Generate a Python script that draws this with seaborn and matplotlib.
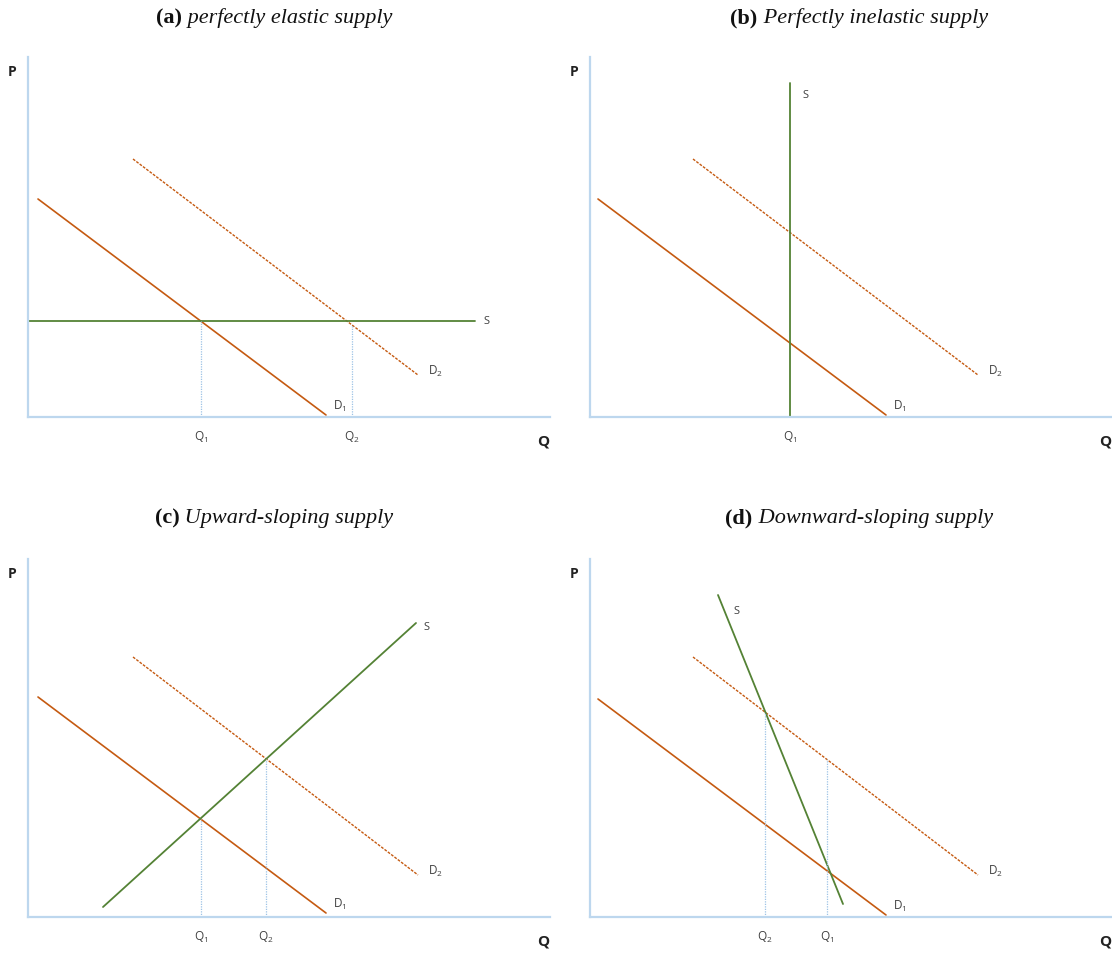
import numpy as np
import matplotlib
matplotlib.use("Agg")
import matplotlib.pyplot as plt
import seaborn as sns

sns.set_theme(style="white")
plt.rcParams['font.family'] = ['Open Sans', 'DejaVu Sans']
plt.rcParams['mathtext.fontset'] = 'custom'
plt.rcParams['mathtext.rm'] = 'Open Sans'
plt.rcParams['mathtext.it'] = 'Open Sans'

# ---------------- data (arbitrary quantity / price units) ----------------
titles_bold = ["(a)", "(b)", "(c)", "(d)"]
titles_it = ["perfectly elastic supply", "Perfectly inelastic supply",
             "Upward-sloping supply", "Downward-sloping supply"]

# demand curves (two end points each)
d1_x = [[10, 298], [8, 296], [10, 298], [8, 296]]
d1_y = [[218, 2], [218, 2], [220, 4], [218, 2]]
d2_x = [[105, 390], [103, 388], [105, 390], [103, 388]]
d2_y = [[258, 42], [258, 42], [260, 42], [260, 42]]
# supply curves
s_x = [[0, 447], [200, 200], [75, 388], [128, 253]]
s_y = [[96, 96], [0, 334], [10, 294], [322, 13]]
# equilibrium quantities: (label, x, curve the guide line reaches)
q_marks = [
    [(r"Q$_\mathrm{1}$", 173, "d1"), (r"Q$_\mathrm{2}$", 324, "d2")],
    [(r"Q$_\mathrm{1}$", 200, None)],
    [(r"Q$_\mathrm{1}$", 173, "d1"), (r"Q$_\mathrm{2}$", 238, "d2")],
    [(r"Q$_\mathrm{2}$", 175, "d2"), (r"Q$_\mathrm{1}$", 237, "d2")],
]
s_label_off = [(8, 0), (12, -12), (7, -4), (15, -16)]

# ---------------- styles ----------------
D_COL = "#c55a11"
S_COL = "#548235"
AX_COL = "#bdd7ee"
GUIDE_COL = "#9dc3e6"
TXT = "#404040"
W, H = 1112, 954

fig = plt.figure(figsize=(W / 100, H / 100), dpi=100)

# panel pixel geometry: (left, origin_y, top)
geo = [(28, 418, 58), (590, 418, 58), (28, 918, 560), (590, 918, 560)]
title_geo = [(274, 18), (859, 18), (274, 518), (859, 518)]

for i, (lx, oy, ty) in enumerate(geo):
    ax = fig.add_axes([lx / W, (H - oy) / H, 522 / W, (oy - ty) / H])
    ax.set_xlim(0, 522)
    ax.set_ylim(0, oy - ty)
    for sp in ["top", "right"]:
        ax.spines[sp].set_visible(False)
    for sp in ["left", "bottom"]:
        ax.spines[sp].set_color(AX_COL)
        ax.spines[sp].set_linewidth(1.6)
    ax.set_xticks([])
    ax.set_yticks([])

    # demand 1
    sns.lineplot(x=d1_x[i], y=d1_y[i], ax=ax, color=D_COL, lw=1.2,
                 sort=False, estimator=None)
    # demand 2 (dashed)
    sns.lineplot(x=d2_x[i], y=d2_y[i], ax=ax, color=D_COL, lw=1.0,
                 sort=False, estimator=None)
    ax.lines[-1].set_linestyle((0, (2.0, 1.0)))
    # supply
    sns.lineplot(x=s_x[i], y=s_y[i], ax=ax, color=S_COL, lw=1.3,
                 sort=False, estimator=None)
    for ln in ax.lines:
        ln.set_clip_on(False)
    ax.set_xlabel("")
    ax.set_ylabel("")

    # guide lines + Q labels
    for lab, qx, curve in q_marks[i]:
        if curve is not None:
            cx, cy = (d1_x[i], d1_y[i]) if curve == "d1" else (d2_x[i], d2_y[i])
            top = np.interp(qx, cx, cy)
            ax.plot([qx, qx], [0, top], color=GUIDE_COL, lw=0.9, ls=(0, (1, 1)))
        ax.text(qx, -19, lab, ha="center", va="center", fontsize=8.5, color=TXT)

    # curve labels
    ax.annotate(r"D$_\mathrm{1}$", (d1_x[i][1], d1_y[i][1]), xytext=(7, 10),
                textcoords="offset pixels", fontsize=8.5, color=TXT,
                ha="left", va="center", annotation_clip=False)
    ax.annotate(r"D$_\mathrm{2}$", (d2_x[i][1], d2_y[i][1]), xytext=(10, 5),
                textcoords="offset pixels", fontsize=8.5, color=TXT,
                ha="left", va="center", annotation_clip=False)
    s_end = int(np.argmax(s_y[i])) if i in (1, 3) else 1
    ax.annotate("S", (s_x[i][s_end], s_y[i][s_end]), xytext=s_label_off[i],
                textcoords="offset pixels", fontsize=8, color=TXT,
                ha="left", va="center", annotation_clip=False)

    # axis letters
    ax.text(-16, (oy - ty) - 14, "P", ha="center", va="center", fontsize=10,
            weight="bold", color="#222222")
    ax.text(515, -24, "Q", ha="center", va="center", fontsize=11,
            weight="bold", color="#222222")

# titles: bold "(x)" + italic text, centred together
renderer = fig.canvas.get_renderer()
for i, (cx, cy) in enumerate(title_geo):
    t1 = fig.text(0, 0, titles_bold[i], fontsize=16, weight="bold",
                  family="Liberation Serif", va="center", ha="left", color="#111111")
    t2 = fig.text(0, 0, " " + titles_it[i], fontsize=16, style="italic",
                  family="Liberation Serif", va="center", ha="left", color="#111111")
    w1 = t1.get_window_extent(renderer).width
    w2 = t2.get_window_extent(renderer).width
    x0 = cx - (w1 + w2) / 2
    t1.set_position((x0 / W, (H - cy) / H))
    t2.set_position(((x0 + w1) / W, (H - cy) / H))

fig.savefig("out.png", dpi=100)
